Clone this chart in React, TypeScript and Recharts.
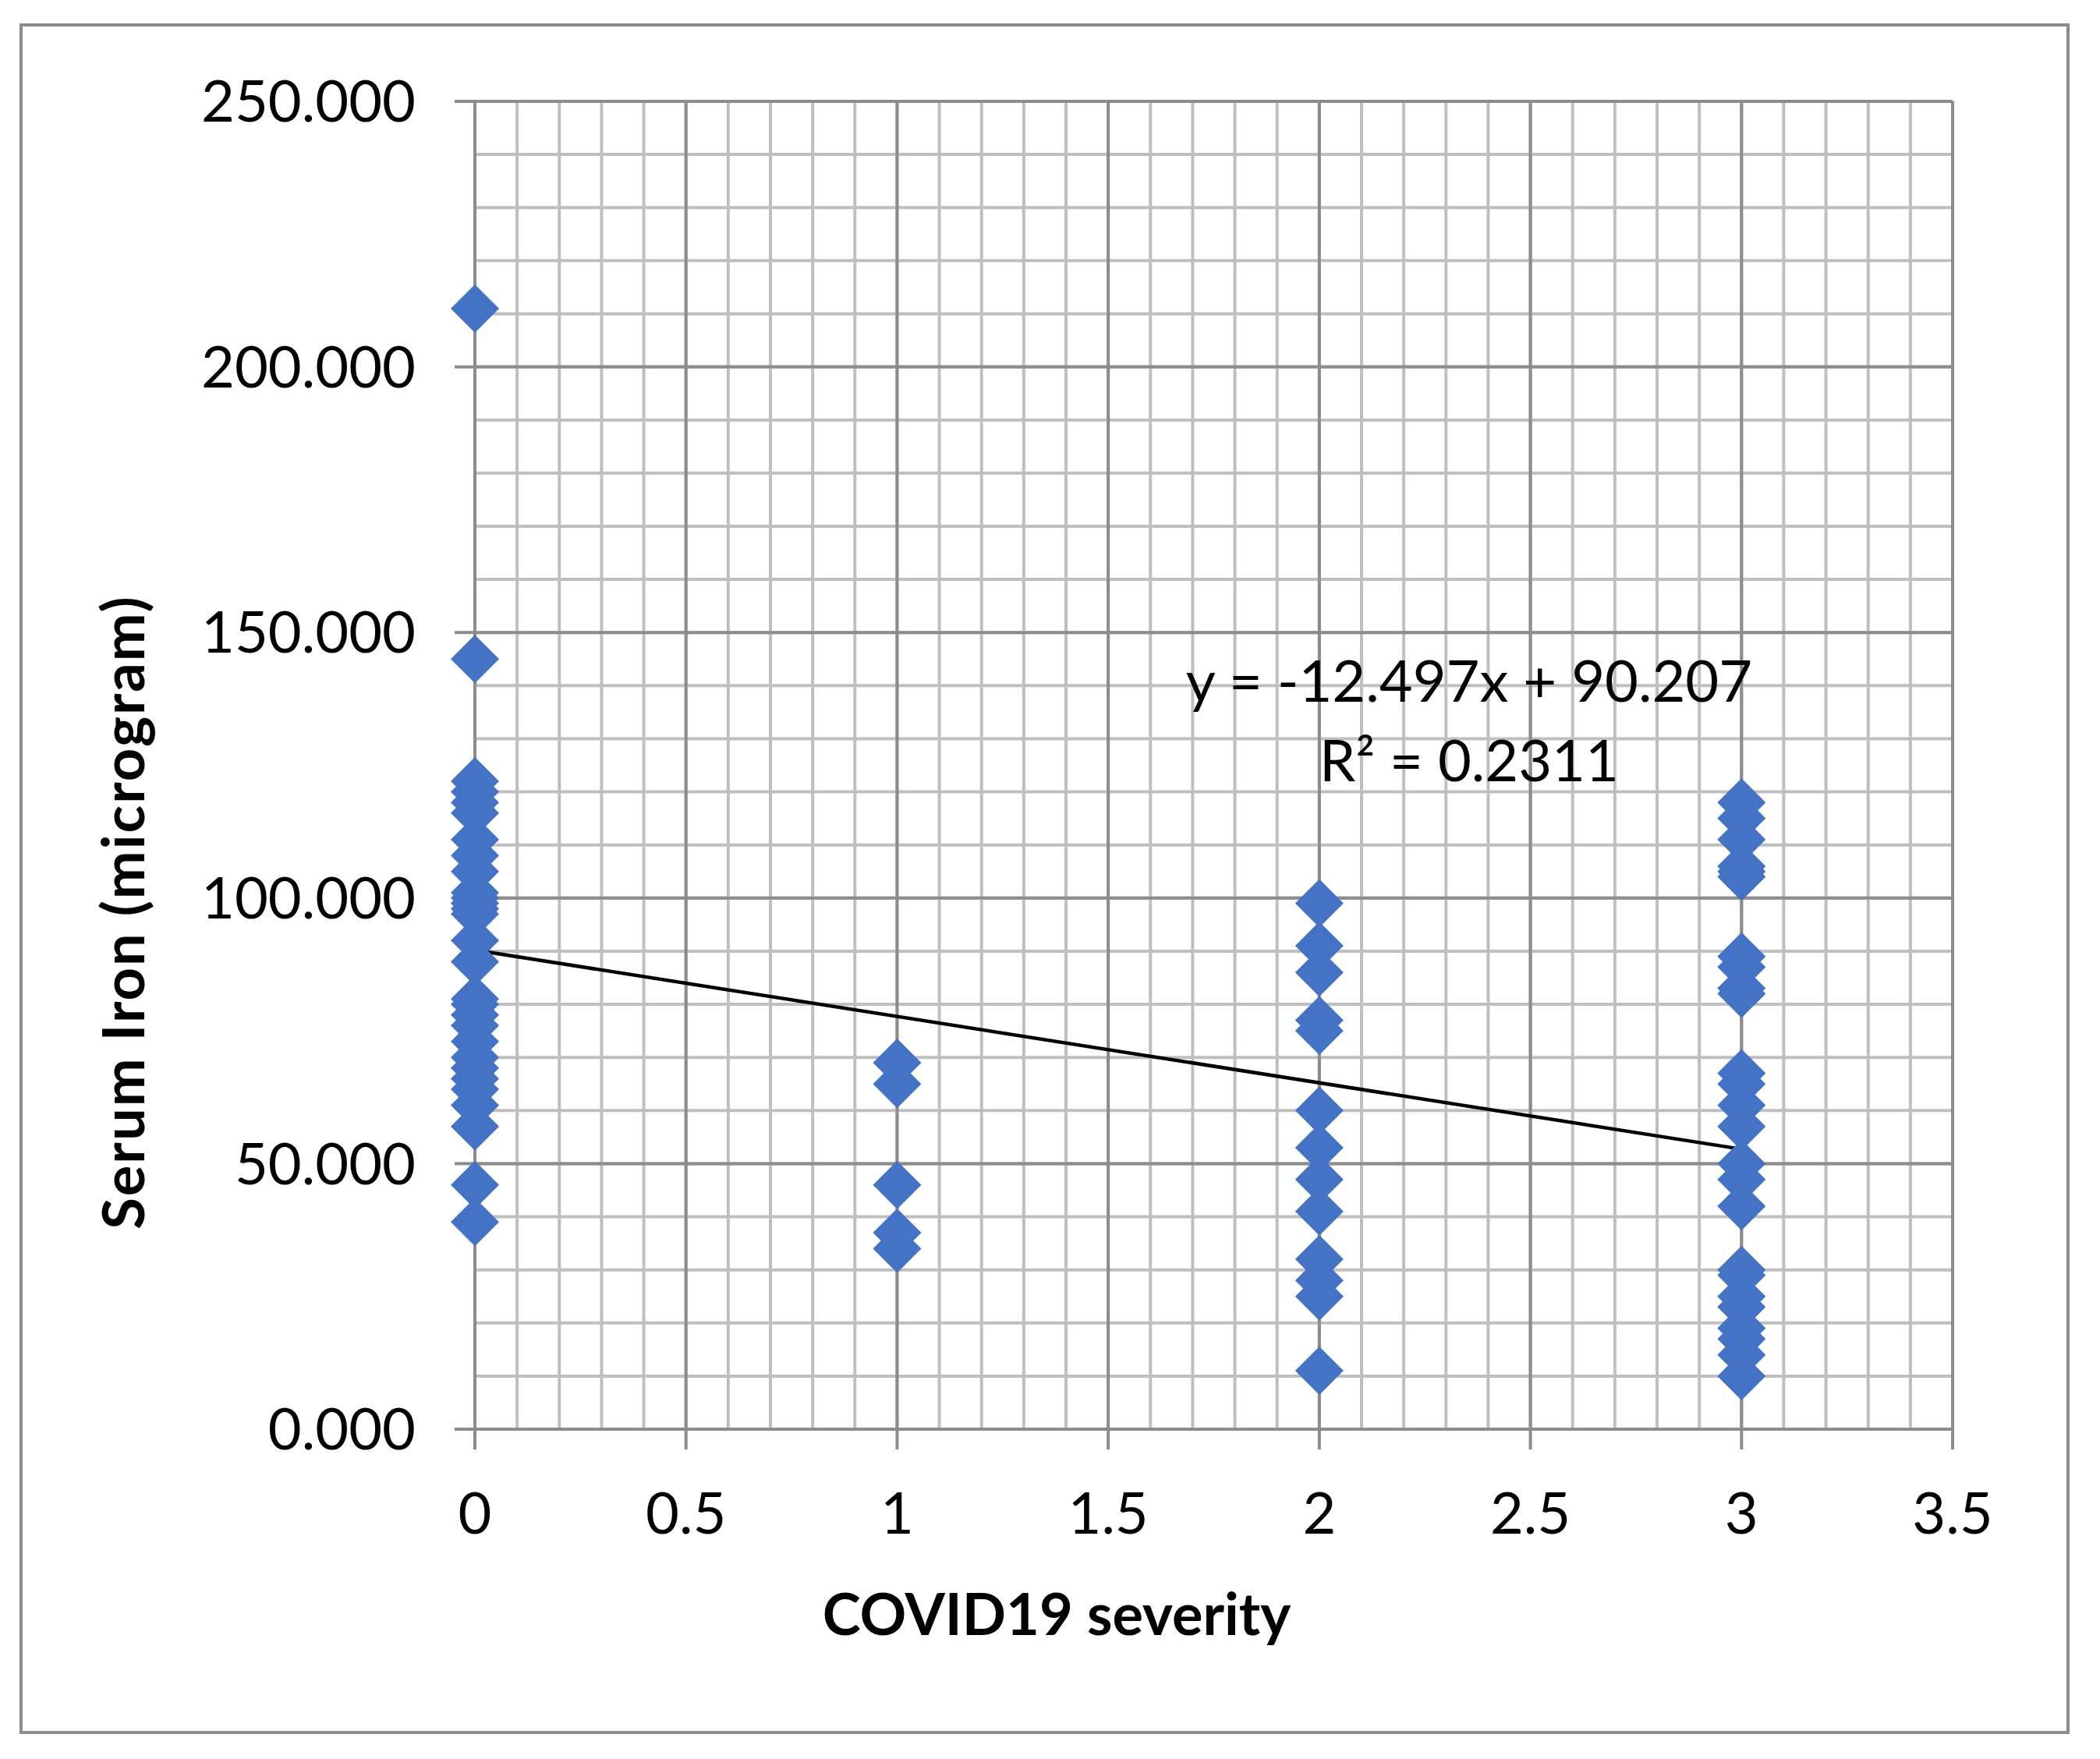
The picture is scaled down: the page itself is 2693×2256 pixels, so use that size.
import React from 'react';
import { ScatterChart, Scatter, XAxis, YAxis, CartesianGrid, ReferenceLine } from 'recharts';

const W = 2693;
const H = 2256;

// COVID19 severity levels and serum iron values
const severityLevels = [0, 1, 2, 3];
const ironSev0 = [211, 145, 122, 120, 118, 116, 111, 108, 105, 101, 100, 99, 98, 97, 92, 88, 81, 80, 78, 76, 73, 70, 68, 66, 64, 61, 57, 46, 39];
const ironSev1 = [69, 65, 46, 37, 34];
const ironSev2 = [99, 91, 86, 77, 75, 60, 53, 47, 41, 32, 28, 25, 11];
const ironSev3 = [118, 115, 111, 106, 105, 104, 89, 87, 83, 82, 67, 65, 61, 57, 50, 47, 42, 30, 29, 25, 23, 19, 17, 14, 10];

const xTicks = [0, 0.5, 1, 1.5, 2, 2.5, 3, 3.5];
const yTicks = [0, 50, 100, 150, 200, 250];
const xMinor = Array.from({ length: 36 }, (_, i) => +(i * 0.1).toFixed(1));
const yMinor = Array.from({ length: 26 }, (_, i) => i * 10);

const trendSlope = -12.497;
const trendIntercept = 90.207;
const trendLabel = 'y = -12.497x + 90.207';
const r2Label = 'R² = 0.2311';

const groups = [ironSev0, ironSev1, ironSev2, ironSev3];
const points = groups.flatMap((vals, i) => vals.map((v) => ({ sev: severityLevels[i], iron: v })));

const FONT = 'Lato, "Open Sans", sans-serif';
const GRID_MINOR = '#bfbfbf';
const GRID_MAJOR = '#8c8c8c';

const Diamond = (props: any) => {
  const { cx, cy } = props;
  if (cx == null || cy == null) return null;
  const r = 31;
  return (
    <polygon
      points={`${cx},${cy - r} ${cx + r},${cy} ${cx},${cy + r} ${cx - r},${cy}`}
      fill="#4472C4"
    />
  );
};

const PLOT_LEFT = 609;
const PLOT_RIGHT = 2504;
const PLOT_TOP = 130;
const PLOT_BOTTOM = 1833;
const Y_AXIS_W = 300;
const X_AXIS_H = 200;

export default function App() {
  return (
    <div style={{ position: 'absolute', left: 0, top: 0, width: W, height: H, background: '#fff' }}>
      <ScatterChart
        width={W}
        height={H}
        margin={{
          top: PLOT_TOP,
          left: PLOT_LEFT - Y_AXIS_W,
          right: W - PLOT_RIGHT,
          bottom: H - PLOT_BOTTOM - X_AXIS_H,
        }}
      >
        <CartesianGrid horizontalValues={yMinor} verticalValues={xMinor} stroke={GRID_MINOR} strokeWidth={4} />
        <CartesianGrid horizontalValues={yTicks} verticalValues={xTicks} stroke={GRID_MAJOR} strokeWidth={4} />
        <XAxis
          dataKey="sev"
          type="number"
          domain={[0, 3.5]}
          ticks={xTicks}
          interval={0}
          height={X_AXIS_H}
          tickSize={26}
          tickMargin={55}
          axisLine={{ stroke: GRID_MAJOR, strokeWidth: 4 }}
          tickLine={{ stroke: GRID_MAJOR, strokeWidth: 4 }}
          tick={{ fontSize: 74, fill: '#000', fontFamily: FONT }}
        />
        <YAxis
          dataKey="iron"
          type="number"
          domain={[0, 250]}
          ticks={yTicks}
          interval={0}
          width={Y_AXIS_W}
          tickSize={26}
          tickMargin={50}
          tickFormatter={(v: number) => v.toFixed(3)}
          axisLine={{ stroke: GRID_MAJOR, strokeWidth: 4 }}
          tickLine={{ stroke: GRID_MAJOR, strokeWidth: 4 }}
          tick={{ fontSize: 74, fill: '#000', fontFamily: FONT }}
        />
        <Scatter data={points} shape={<Diamond />} isAnimationActive={false} />
        <ReferenceLine
          segment={[
            { x: 0, y: trendIntercept },
            { x: 3, y: trendIntercept + trendSlope * 3 },
          ]}
          stroke="#000"
          strokeWidth={4.5}
          ifOverflow="visible"
        />
      </ScatterChart>
      <svg
        width={W}
        height={H}
        style={{ position: 'absolute', left: 0, top: 0, pointerEvents: 'none' }}
      >
        <rect x={27} y={32} width={2625} height={2190} fill="none" stroke={GRID_MAJOR} strokeWidth={4} />
        <text x={1884} y={900} textAnchor="middle" fontSize={74} fontFamily={FONT} fill="#000">
          {trendLabel}
        </text>
        <text x={1884} y={1002} textAnchor="middle" fontSize={74} fontFamily={FONT} fill="#000">
          {r2Label}
        </text>
        <text x={1355} y={2097} textAnchor="middle" fontSize={74} fontWeight="bold" fontFamily={FONT} fill="#000">
          COVID19 severity
        </text>
        <text
          transform="translate(185,1170) rotate(-90)"
          textAnchor="middle"
          fontSize={74}
          fontWeight="bold"
          fontFamily={FONT}
          letterSpacing={2}
          fill="#000"
        >
          Serum Iron (microgram)
        </text>
      </svg>
    </div>
  );
}
